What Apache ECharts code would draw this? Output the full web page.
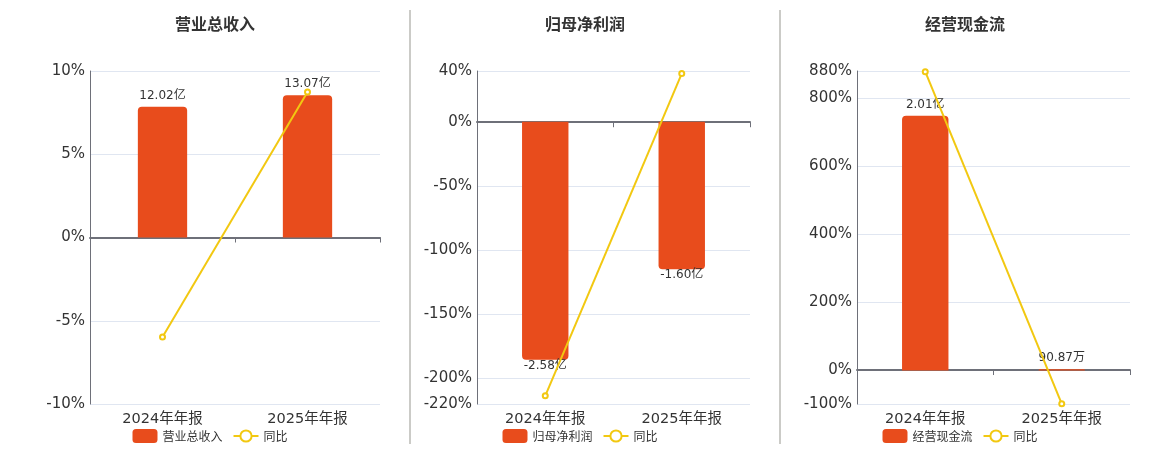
<!DOCTYPE html>
<html>
<head>
<meta charset="utf-8">
<title>财务指标</title>
<script src="https://cdn.jsdelivr.net/npm/echarts@6/dist/echarts.min.js"></script>
<style>
  html, body { margin: 0; padding: 0; background: #fff; }
  #chart { width: 1160px; height: 450px; }
</style>
</head>
<body>
<div id="chart"></div>
<script>
const categories = ['2024年年报', '2025年年报'];

// 营业总收入 (亿)
const revenue = [12.02, 13.07];
const revenueLabels = ['12.02亿', '13.07亿'];
const revenueYoy = [-5.97, 8.74];
const revenueTicks = [-10, -5, 0, 5, 10];

// 归母净利润 (亿)
const profit = [-2.58, -1.6];
const profitLabels = ['-2.58亿', '-1.60亿'];
const profitYoy = [-213.6, 38.0];
const profitTicks = [-220, -200, -150, -100, -50, 0, 40];

// 经营现金流 (亿)
const cashflow = [2.01, 0.009087];
const cashflowLabels = ['2.01亿', '90.87万'];
const cashflowYoy = [878, -99.55];
const cashflowTicks = [-100, 0, 200, 400, 600, 800, 880];

const BAR_COLOR = '#e84c1c';
const LINE_COLOR = '#f2c811';
const TEXT = '#333';
const FONT = '"DejaVu Sans", "Noto Sans CJK SC", sans-serif';
const CJK = '"Noto Sans CJK SC", sans-serif';

const panels = [
  { name: '营业总收入', bars: revenue, labels: revenueLabels, yoy: revenueYoy, ticks: revenueTicks,
    barRange: [-15.3, 15.3], left: 90, width: 290, center: 210 },
  { name: '归母净利润', bars: profit, labels: profitLabels, yoy: profitYoy, ticks: profitTicks,
    barRange: [-3.06, 0.55], left: 477, width: 273, center: 580 },
  { name: '经营现金流', bars: cashflow, labels: cashflowLabels, yoy: cashflowYoy, ticks: cashflowTicks,
    barRange: [-0.265, 2.364], left: 857, width: 273, center: 960 },
];

const option = {
  animation: false,
  textStyle: { fontFamily: FONT },
  title: [],
  legend: [],
  grid: [],
  xAxis: [],
  yAxis: [],
  series: [],
  graphic: [410, 780].map(x => ({
    type: 'line',
    shape: { x1: x, y1: 10, x2: x, y2: 444 },
    style: { stroke: '#a8a8a2', lineWidth: 1.2 },
  })),
};

panels.forEach((p, i) => {
  option.title.push({
    text: p.name,
    left: p.center,
    top: 11,
    textAlign: 'center',
    textStyle: { fontSize: 16, fontWeight: 'bold', color: TEXT, fontFamily: CJK },
  });
  option.legend.push({
    data: [p.name, '同比'],
    left: p.center,
    top: 424,
    itemWidth: 25,
    itemHeight: 14,
    itemGap: 10,
    textStyle: { fontSize: 12, color: TEXT, fontFamily: CJK },
  });
  option.grid.push({ left: p.left, width: p.width, top: 71, height: 333 });
  option.xAxis.push({
    type: 'category',
    gridIndex: i,
    data: categories,
    axisLine: { onZero: true, lineStyle: { color: '#6e7079', width: 2 } },
    axisTick: { show: true, lineStyle: { color: '#6e7079' } },
    axisLabel: { fontSize: 14.5, color: TEXT, margin: 8 },
  });
  option.yAxis.push({
    type: 'value',
    gridIndex: i,
    min: p.ticks[0],
    max: p.ticks[p.ticks.length - 1],
    axisLine: { show: true, lineStyle: { color: '#6e7079' } },
    axisTick: { show: false, customValues: p.ticks },
    axisLabel: { fontSize: 15, color: TEXT, margin: 5, formatter: '{value}%', customValues: p.ticks },
    splitLine: { show: true, lineStyle: { color: '#e0e6f1' } },
  });
  option.yAxis.push({
    type: 'value',
    gridIndex: i,
    min: p.barRange[0],
    max: p.barRange[1],
    show: false,
    splitLine: { show: false },
  });
  option.series.push({
    name: p.name,
    type: 'bar',
    xAxisIndex: i,
    yAxisIndex: i * 2 + 1,
    barWidth: '34%',
    itemStyle: { color: BAR_COLOR },
    data: p.bars.map((v, k) => ({
      value: v,
      itemStyle: { borderRadius: v >= 0 ? [4, 4, 0, 0] : [0, 0, 4, 4] },
      label: {
        show: true,
        position: v >= 0 ? 'top' : 'bottom',
        distance: v >= 0 ? 5 : 0,
        formatter: p.labels[k],
        fontSize: 12,
        color: TEXT,
      },
    })),
  });
  option.series.push({
    name: '同比',
    type: 'line',
    xAxisIndex: i,
    yAxisIndex: i * 2,
    data: p.yoy,
    symbol: 'emptyCircle',
    symbolSize: 5,
    lineStyle: { color: LINE_COLOR, width: 2 },
    itemStyle: { color: LINE_COLOR },
    z: 5,
  });
});

const chart = echarts.init(document.getElementById('chart'));
chart.setOption(option);

// centre each legend on its panel once its width is known
const model = chart.getModel();
const legendPos = panels.map((p, i) => {
  const view = chart.getViewOfComponentModel(model.getComponent('legend', i));
  const rect = view.group.getBoundingRect();
  return { left: p.center - rect.width / 2 };
});
chart.setOption({ legend: legendPos });
</script>
</body>
</html>
